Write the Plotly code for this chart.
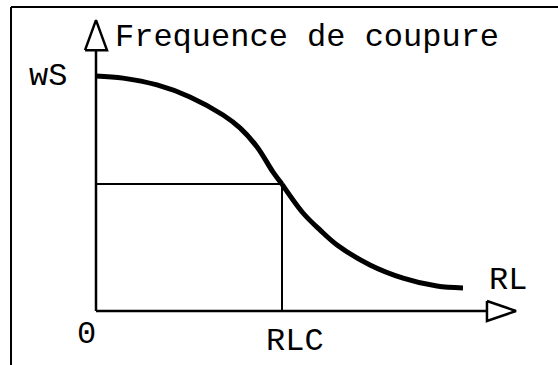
import plotly.graph_objects as go

# ---- data (normalised units: RL / RLC, f / wS) ----
upper_rl = [0.0, 0.145, 0.328, 0.505, 0.683, 0.774, 0.866, 0.952, 1.0]
upper_f = [1.0, 0.991, 0.962, 0.911, 0.834, 0.779, 0.698, 0.591, 0.54]
lower_rl = [1.0, 1.113, 1.204, 1.296, 1.473, 1.651, 1.833, 1.973]
lower_f = [0.54, 0.417, 0.345, 0.281, 0.196, 0.140, 0.106, 0.098]

rlc = 1.0
f_rlc = 0.54
ws = 1.0
x_axis_end = 2.258
y_axis_end = 1.238

title_text = "Frequence de coupure"
ws_label = "wS"
zero_label = "0"
rlc_label = "RLC"
rl_label = "RL"

FONT = "Courier New, Nimbus Mono PS, Liberation Mono, monospace"
W, H = 558, 365
# pixel scale: origin at (96, 311); 186 px per x unit, 235 px per y unit
xr = [-96 / 186, (W - 96) / 186]
yr = [-(H - 311) / 235, 311 / 235]

ax_w = 0.156   # arrow length (x units)
ax_h = 0.0426  # arrow half height (y units)
ay_h = 0.128   # arrow length (y units)
ay_w = 0.059   # arrow half width (x units)

fig = go.Figure()

# reference lines at RLC
fig.add_trace(go.Scatter(x=[0, rlc, rlc], y=[f_rlc, f_rlc, 0], mode="lines",
                         line=dict(color="black", width=2), hoverinfo="skip"))
# axes lines
fig.add_trace(go.Scatter(x=[0, x_axis_end - ax_w], y=[0, 0], mode="lines",
                         line=dict(color="black", width=2.5), hoverinfo="skip"))
fig.add_trace(go.Scatter(x=[0, 0], y=[0, y_axis_end - ay_h], mode="lines",
                         line=dict(color="black", width=2.5), hoverinfo="skip"))
# hollow arrow heads
fig.add_trace(go.Scatter(
    x=[x_axis_end - ax_w, x_axis_end, x_axis_end - ax_w, x_axis_end - ax_w],
    y=[ax_h, 0, -ax_h, ax_h], mode="lines", fill="toself", fillcolor="white",
    line=dict(color="black", width=2.5), hoverinfo="skip"))
fig.add_trace(go.Scatter(
    x=[-ay_w, 0, ay_w, -ay_w],
    y=[y_axis_end - ay_h, y_axis_end, y_axis_end - ay_h, y_axis_end - ay_h],
    mode="lines", fill="toself", fillcolor="white",
    line=dict(color="black", width=2.5), hoverinfo="skip"))
# curve
fig.add_trace(go.Scatter(x=upper_rl, y=upper_f, mode="lines",
                         line=dict(color="black", width=5, shape="spline"),
                         hoverinfo="skip"))
fig.add_trace(go.Scatter(x=lower_rl, y=lower_f, mode="lines",
                         line=dict(color="black", width=5, shape="spline"),
                         hoverinfo="skip"))

tf = dict(family=FONT, size=32, color="black")
fig.add_annotation(x=0, y=y_axis_end, text=title_text, showarrow=False,
                   xanchor="left", yanchor="middle", xshift=17, yshift=-17, font=tf)
fig.add_annotation(x=0, y=ws, text=ws_label, showarrow=False,
                   xanchor="right", yanchor="middle", xshift=-27, font=tf)
fig.add_annotation(x=0, y=0, text=zero_label, showarrow=False,
                   xanchor="center", yanchor="middle", xshift=-10, yshift=-23, font=tf)
fig.add_annotation(x=rlc, y=0, text=rlc_label, showarrow=False,
                   xanchor="center", yanchor="middle", xshift=13, yshift=-30, font=tf)
fig.add_annotation(x=x_axis_end, y=0, text=rl_label, showarrow=False,
                   xanchor="center", yanchor="middle", xshift=-8, yshift=31, font=tf)

# frame (top and left edges)
fig.add_shape(type="line", xref="paper", yref="paper", x0=11 / W, x1=1, y0=1 - 7 / H, y1=1 - 7 / H,
              line=dict(color="black", width=2))
fig.add_shape(type="line", xref="paper", yref="paper", x0=11 / W, x1=11 / W, y0=0, y1=1 - 7 / H,
              line=dict(color="black", width=2))

fig.update_layout(
    width=W, height=H, margin=dict(l=0, r=0, t=0, b=0),
    paper_bgcolor="white", plot_bgcolor="white", showlegend=False,
    xaxis=dict(range=xr, visible=False, fixedrange=True),
    yaxis=dict(range=yr, visible=False, fixedrange=True),
)

fig.write_html("out.html", config={"displayModeBar": False},
               post_script="document.body.style.margin='0';document.body.style.overflow='hidden';")
